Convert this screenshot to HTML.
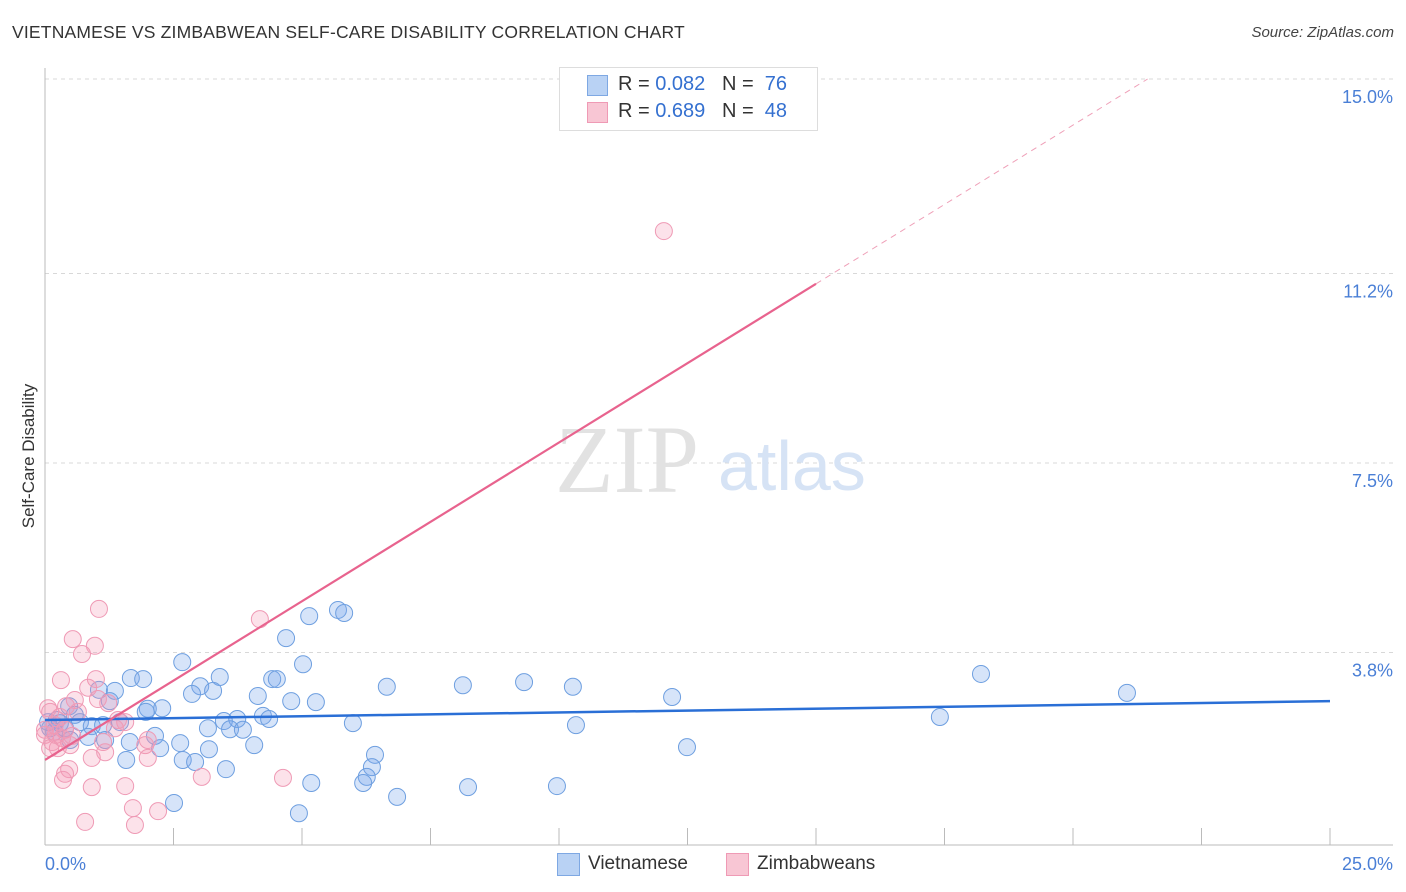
<!DOCTYPE html>
<html><head><meta charset="utf-8"><style>
body{margin:0;background:#fff;font-family:"Liberation Sans",sans-serif;}
#wrap{position:relative;width:1406px;height:892px;overflow:hidden;}
.t{position:absolute;white-space:nowrap;}
</style></head><body><div id="wrap">
<div class="t" style="left:12px;top:22px;font-size:17.5px;color:#333;letter-spacing:0.2px">VIETNAMESE VS ZIMBABWEAN SELF-CARE DISABILITY CORRELATION CHART</div>
<div class="t" style="right:12px;top:24px;font-size:15px;color:#444;font-style:italic">Source: ZipAtlas.com</div>
<svg id="plot" width="1406" height="892" style="position:absolute;left:0;top:0">
<g id="grid"></g>
<text x="555" y="492" font-family="Liberation Serif,serif" font-size="96" fill="#e2e2e2">ZIP</text>
<text x="718" y="490" font-family="Liberation Sans,sans-serif" font-size="70" fill="#d6e3f5">atlas</text>
<g id="pts"></g><g id="lines"></g>
<text transform="translate(34,456) rotate(-90)" text-anchor="middle" font-size="17" fill="#333">Self-Care Disability</text>
</svg>
<div class="t" style="left:559px;top:67px;width:257px;height:62px;border:1px solid #ddd;background:#fff"></div>
<div class="t" style="left:587px;top:75px;width:19px;height:19px;background:#b9d2f4;border:1px solid #7ea8e3"></div>
<div class="t" style="left:587px;top:102px;width:19px;height:19px;background:#f8c6d4;border:1px solid #ef9ab5"></div>
<div class="t" style="left:618px;top:73px;font-size:20px;color:#333">R = <span style="color:#3470d0">0.082</span>&nbsp;&nbsp;&nbsp;N = &nbsp;<span style="color:#3470d0">76</span></div>
<div class="t" style="left:618px;top:100px;font-size:20px;color:#333">R = <span style="color:#3470d0">0.689</span>&nbsp;&nbsp;&nbsp;N = &nbsp;<span style="color:#3470d0">48</span></div>
<div class="t" style="left:557px;top:853px;width:21px;height:21px;background:#b9d2f4;border:1px solid #7ea8e3"></div>
<div class="t" style="left:588px;top:853px;font-size:19px;color:#333">Vietnamese</div>
<div class="t" style="left:726px;top:853px;width:21px;height:21px;background:#f8c6d4;border:1px solid #ef9ab5"></div>
<div class="t" style="left:757px;top:853px;font-size:19px;color:#333">Zimbabweans</div>
<script>
const yTicks=[3.8,7.5,11.2,15.0];
const yTickLabels=["3.8%","7.5%","11.2%","15.0%"];
const xTickVals=[0,2.5,5,7.5,10,12.5,15,17.5,20,22.5,25];
const xEndLabels=["0.0%","25.0%"];
const viX=[2.67,5.70,5.82,5.14,4.69,5.02,1.67,1.91,3.40,4.42,4.51,3.02,3.27,1.05,1.36,2.86,4.14,4.79,5.27,6.65,8.13,9.32,10.27,12.20,18.21,21.05,0.47,1.26,2.00,2.28,1.96,0.58,3.48,3.74,4.24,4.36,5.99,3.17,3.60,3.85,0.23,0.68,0.91,1.13,0.10,0.18,10.33,17.41,0.84,1.17,1.65,2.14,2.24,2.63,3.19,4.07,2.68,2.92,1.58,3.52,6.42,6.36,6.26,6.19,5.18,8.23,9.96,12.49,2.51,4.94,6.85,0.29,0.39,0.06,1.46,0.49];
const viY=[3.61,4.63,4.57,4.51,4.08,3.57,3.30,3.28,3.32,3.28,3.28,3.14,3.05,3.07,3.05,2.99,2.95,2.85,2.83,3.13,3.16,3.22,3.13,2.93,3.38,3.01,2.75,2.85,2.70,2.71,2.64,2.58,2.46,2.50,2.56,2.50,2.42,2.32,2.30,2.29,2.48,2.44,2.36,2.38,2.32,2.25,2.38,2.54,2.15,2.09,2.05,2.17,1.93,2.03,1.91,1.99,1.70,1.66,1.70,1.52,1.80,1.56,1.37,1.25,1.25,1.17,1.19,1.95,0.86,0.66,0.98,2.42,2.32,2.44,2.44,2.09];
const zwX=[1.05,4.18,0.54,0.97,0.72,0.31,0.99,0.84,0.58,1.23,1.56,0.29,0.10,0.19,0.39,0.00,0.14,0.49,0.25,2.00,1.95,1.13,1.42,0.91,2.00,0.47,0.39,0.35,0.91,1.56,3.05,4.63,1.71,2.20,0.78,1.75,12.04,0.06,0.21,0.33,0.53,0.00,0.10,0.64,1.36,0.41,1.03,1.17];
const zwY=[4.65,4.45,4.06,3.93,3.77,3.26,3.28,3.11,2.87,2.81,2.44,2.54,2.64,2.38,2.29,2.19,2.05,1.99,1.93,2.09,1.99,2.05,2.48,1.74,1.74,1.52,1.43,1.31,1.17,1.19,1.37,1.35,0.76,0.70,0.49,0.43,12.03,2.71,2.19,2.13,2.17,2.29,1.93,2.64,2.32,2.75,2.89,1.85];
const viTrend=[2.48,2.85];
const zwTrend=[1.70,0.62];
const NS="http://www.w3.org/2000/svg";
function sx(v){return 45+v/25*1285;}
function sy(v){return 847-v/15*768;}
function mk(t,a,p){const e=document.createElementNS(NS,t);for(const k in a)e.setAttribute(k,a[k]);p.appendChild(e);return e;}
const grid=document.getElementById('grid');
yTicks.forEach((v,i)=>{
 const l=mk('line',{x1:45,x2:1393,y1:sy(v),y2:sy(v),stroke:'#d8d8d8','stroke-dasharray':'4,4'},grid);
 
 
 const t=mk('text',{x:1393,y:sy(v)+24,'text-anchor':'end','font-size':18,fill:'#4a7fd6'},grid);
 t.textContent=yTickLabels[i];
 
 
});
let ax=mk('line',{x1:45,x2:45,y1:68,y2:845,stroke:'#bbb'},grid);


ax=mk('line',{x1:45,x2:1393,y1:845,y2:845,stroke:'#bbb'},grid);


xTickVals.forEach(v=>{
 const l=mk('line',{x1:sx(v),x2:sx(v),y1:828,y2:845,stroke:'#bbb'},grid);
 
 
});
let xl=mk('text',{x:45,y:870,'font-size':18,fill:'#4a7fd6'},grid);xl.textContent=xEndLabels[0];


xl=mk('text',{x:1393,y:870,'text-anchor':'end','font-size':18,fill:'#4a7fd6'},grid);xl.textContent=xEndLabels[1];


const pts=document.getElementById('pts');
viX.forEach((x,i)=>{
 const c=mk('circle',{cx:sx(x),cy:sy(viY[i]),r:8.5,fill:'rgba(120,165,235,0.3)',stroke:'#6e9fe0','stroke-width':1},pts);
 
 
});
zwX.forEach((x,i)=>{
 const c=mk('circle',{cx:sx(x),cy:sy(zwY[i]),r:8.5,fill:'rgba(245,150,180,0.28)',stroke:'#ef9ab5','stroke-width':1},pts);
 
 
});
const lines=document.getElementById('lines');
let tl=mk('line',{x1:sx(0),y1:sy(viTrend[0]),x2:sx(25),y2:sy(viTrend[1]),stroke:'#2a6fd6','stroke-width':2.5},lines);


const xs=15, xe=(15-zwTrend[0])/zwTrend[1];
tl=mk('line',{x1:sx(0),y1:sy(zwTrend[0]),x2:sx(xs),y2:sy(zwTrend[0]+zwTrend[1]*xs),stroke:'#e8638e','stroke-width':2.2},lines);


tl=mk('line',{x1:sx(xs),y1:sy(zwTrend[0]+zwTrend[1]*xs),x2:sx(xe),y2:sy(15),stroke:'#efa0b8','stroke-width':1,'stroke-dasharray':'6,5'},lines);


</script>
</div></body></html>
